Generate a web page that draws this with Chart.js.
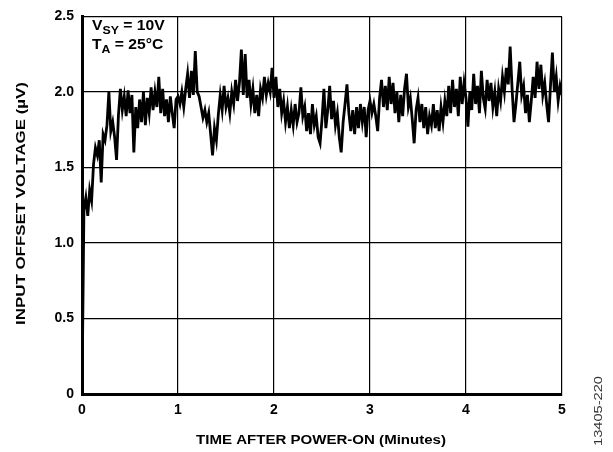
<!DOCTYPE html>
<html>
<head>
<meta charset="utf-8">
<script src="https://cdn.jsdelivr.net/npm/chart.js@4.4.1/dist/chart.umd.min.js"></script>
<style>
  html, body { margin: 0; padding: 0; background: #fff; }
  #wrap { width: 613px; height: 452px; position: relative; }
</style>
</head>
<body>
<div id="wrap"><canvas id="offset"></canvas></div>
<script>
// time step between samples (minutes)
var STEP = 0.02;
var xTicks = [0, 1, 2, 3, 4, 5];
var yTicks = [0, 0.5, 1.0, 1.5, 2.0, 2.5];

// input offset voltage (uV), one sample every 0.02 min
var vos = [
    0.00, 1.22, 1.30, 1.18, 1.35, 1.28, 1.52, 1.63, 1.58, 1.68,
    1.40, 1.72, 1.68, 1.78, 2.00, 1.74, 1.80, 1.70, 1.55, 1.85,
    2.02, 1.88, 1.97, 1.84, 2.01, 1.86, 1.98, 1.60, 1.90, 1.76,
    1.95, 1.80, 2.00, 1.78, 1.96, 1.86, 2.03, 1.88, 2.00, 1.90,
    2.10, 1.86, 2.02, 1.84, 1.95, 1.80, 1.97, 1.86, 1.76, 1.95,
    1.97, 1.92, 2.00, 1.90, 2.02, 2.12, 1.96, 2.14, 1.98, 2.27,
    2.00, 1.97, 1.90, 1.83, 1.88, 1.80, 1.86, 1.72, 1.58, 1.76,
    1.68, 1.85, 1.98, 1.88, 2.04, 1.90, 1.96, 1.86, 2.00, 1.92,
    2.08, 1.94, 2.06, 2.28, 1.98, 2.25, 1.96, 2.08, 1.92, 2.02,
    1.86, 1.98, 1.84, 2.02, 1.96, 2.10, 1.98, 2.06, 2.00, 2.16,
    1.96, 2.10, 1.90, 2.02, 1.86, 1.94, 1.80, 1.90, 1.76, 1.88,
    1.78, 1.92, 1.80, 1.86, 2.03, 1.84, 1.90, 1.74, 1.86, 1.72,
    1.92, 1.78, 1.84, 1.70, 1.66, 1.82, 2.02, 1.76, 1.88, 2.04,
    1.82, 1.94, 1.78, 1.86, 1.70, 1.60, 1.80, 1.92, 2.05, 1.86,
    1.74, 1.88, 1.72, 1.90, 1.76, 1.92, 1.80, 1.90, 1.70, 1.88,
    1.94, 1.86, 1.92, 1.84, 1.74, 1.96, 2.08, 1.90, 2.04, 1.88,
    2.10, 1.92, 2.06, 1.86, 2.00, 1.80, 1.98, 1.84, 2.02, 2.12,
    1.90, 1.96, 1.82, 1.66, 1.88, 1.96, 1.80, 1.92, 1.76, 1.90,
    1.72, 1.84, 1.78, 1.92, 1.76, 1.88, 1.74, 1.90, 1.80, 1.94,
    1.84, 2.04, 1.86, 2.08, 1.90, 2.02, 1.84, 2.10, 1.92, 2.06,
    1.96, 1.77, 2.00, 1.88, 2.12, 1.92, 2.04, 1.86, 2.14, 1.96,
    1.89, 2.08, 1.94, 2.06, 1.90, 2.00, 1.84, 2.02, 1.94, 2.10,
    2.00, 2.16, 2.05, 2.30, 2.02, 1.80, 1.92, 2.06, 2.20, 1.98,
    2.04, 1.86, 1.98, 1.80, 1.94, 2.10, 1.96, 2.20, 2.02, 2.18,
    1.98, 2.06, 1.92, 1.80, 2.04, 2.26, 2.00, 2.10, 1.94, 2.04,
    1.98
];

var FONT = "Arial, 'Liberation Sans', Helvetica, sans-serif";

// the original lettering is a little wider than Arial: stretch it to a width
function wideText(ctx, text, x, y, width, align) {
    var w = ctx.measureText(text).width;
    var sx = width / w;
    ctx.save();
    ctx.translate(x, y);
    ctx.scale(sx, 1);
    ctx.textAlign = 'left';
    var start = align === 'center' ? -w / 2 : 0;
    ctx.fillText(text, start, 0);
    ctx.restore();
}

// axis titles, condition text and figure number
var extras = {
    id: 'extras',
    afterDraw: function (chart) {
        var ctx = chart.ctx;
        var area = chart.chartArea;
        ctx.save();
        ctx.fillStyle = '#000';
        ctx.textBaseline = 'alphabetic';

        function sub(x, y, main, s, rest, sx) {
            ctx.save();
            ctx.translate(x, y);
            ctx.scale(sx, 1);
            var cx = 0;
            ctx.textAlign = 'left';
            ctx.font = 'bold 14px ' + FONT;
            ctx.fillText(main, cx, 0);
            cx += ctx.measureText(main).width;
            ctx.font = 'bold 11px ' + FONT;
            ctx.fillText(s, cx, 4);
            cx += ctx.measureText(s).width;
            ctx.font = 'bold 14px ' + FONT;
            ctx.fillText(rest, cx, 0);
            ctx.restore();
        }
        sub(area.left + 10, 30, 'V', 'SY', ' = 10V', 1.12);
        sub(area.left + 10, 49, 'T', 'A', ' = 25°C', 1.12);

        // x title
        ctx.font = 'bold 13.5px ' + FONT;
        wideText(ctx, 'TIME AFTER POWER-ON (Minutes)', (area.left + area.right) / 2 - 1, 444, 250, 'center');

        // y title
        ctx.save();
        ctx.translate(25, 203.5);
        ctx.rotate(-Math.PI / 2);
        wideText(ctx, 'INPUT OFFSET VOLTAGE (µV)', 0, 0, 243, 'center');
        ctx.restore();

        // figure number
        ctx.save();
        ctx.translate(602, 446);
        ctx.rotate(-Math.PI / 2);
        ctx.font = '11px ' + FONT;
        ctx.fillStyle = '#333';
        wideText(ctx, '13405-220', 0, 0, 70, 'left');
        ctx.restore();

        ctx.restore();
    }
};

var points = vos.map(function (v, i) {
    return { x: i * STEP, y: v };
});

new Chart(document.getElementById('offset').getContext('2d'), {
    type: 'line',
    data: {
        datasets: [{
            data: points,
            borderColor: '#000',
            borderWidth: 2.8,
            pointRadius: 0,
            tension: 0,
            fill: false
        }]
    },
    options: {
        responsive: true,
        maintainAspectRatio: false,
        animation: false,
        layout: { padding: { left: 0, right: 51, top: 10, bottom: 0 } },
        plugins: {
            legend: { display: false },
            tooltip: { enabled: false }
        },
        scales: {
            x: {
                type: 'linear',
                min: 0,
                max: 5,
                afterBuildTicks: function (scale) {
                    scale.ticks = xTicks.map(function (v) { return { value: v }; });
                },
                afterFit: function (scale) { scale.height = 58; },
                ticks: {
                    color: '#000',
                    font: { family: FONT, size: 14, weight: 'bold' },
                    padding: 8,
                    maxRotation: 0
                },
                grid: { color: '#000', lineWidth: 1.2, drawTicks: false },
                border: { color: '#000', width: 3 }
            },
            y: {
                min: 0,
                max: 2.5,
                afterBuildTicks: function (scale) {
                    scale.ticks = yTicks.map(function (v) { return { value: v }; });
                },
                afterFit: function (scale) { scale.width = 82; },
                ticks: {
                    color: '#000',
                    font: { family: FONT, size: 14, weight: 'bold' },
                    padding: 8,
                    callback: function (v) { return v === 0 ? '0' : v.toFixed(1); }
                },
                grid: { color: '#000', lineWidth: 1.2, drawTicks: false },
                border: { color: '#000', width: 3 }
            }
        }
    },
    plugins: [extras]
});
</script>
</body>
</html>
